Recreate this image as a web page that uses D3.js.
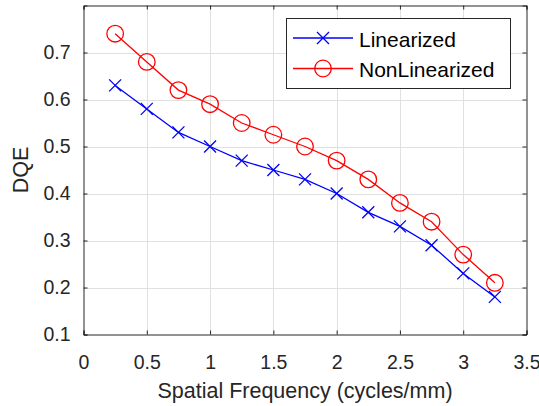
<!DOCTYPE html>
<html lang="en">
<head>
  <meta charset="UTF-8">
  <title>DQE vs Spatial Frequency</title>
  <script src="https://d3js.org/d3.v7.min.js"></script>
  <style>
    body {
      margin: 0;
      background-color: #ffffff;
      font-family: "Liberation Sans", Arial, sans-serif;
    }
    #chart {
      display: block;
    }
  </style>
</head>
<body>
  <svg id="chart" width="539" height="406"></svg>

  <script>
    // data
    const frequency = [0.25, 0.5, 0.75, 1, 1.25, 1.5, 1.75, 2, 2.25, 2.5, 2.75, 3, 3.25];
    const linearized = [0.63, 0.58, 0.53, 0.50, 0.47, 0.45, 0.43, 0.40, 0.36, 0.33, 0.29, 0.23, 0.18];
    const nonLinearized = [0.74, 0.68, 0.62, 0.59, 0.55, 0.525, 0.50, 0.47, 0.43, 0.38, 0.34, 0.27, 0.21];
    const xTicks = [0, 0.5, 1, 1.5, 2, 2.5, 3, 3.5];
    const yTicks = [0.1, 0.2, 0.3, 0.4, 0.5, 0.6, 0.7];
    const seriesNames = ["Linearized", "NonLinearized"];

    const plotLeft = 83.5, plotRight = 526.5, plotTop = 5.5, plotBottom = 334.5;
    const axisColor = "#262626";
    const gridColor = "#e0e0e0";

    const svg = d3.select("#chart");

    const x = d3.scaleLinear().domain([0, 3.5]).range([plotLeft, plotRight]);
    const y = d3.scaleLinear().domain([0.1, 0.8]).range([plotBottom, plotTop]);

    // grid
    svg.append("g")
      .selectAll("line")
      .data(xTicks.slice(1, -1))
      .enter()
      .append("line")
      .attr("x1", d => Math.round(x(d)) + 0.5)
      .attr("x2", d => Math.round(x(d)) + 0.5)
      .attr("y1", plotTop)
      .attr("y2", plotBottom)
      .attr("stroke", gridColor);

    svg.append("g")
      .selectAll("line")
      .data(yTicks.slice(1))
      .enter()
      .append("line")
      .attr("x1", plotLeft)
      .attr("x2", plotRight)
      .attr("y1", d => Math.round(y(d)) + 0.5)
      .attr("y2", d => Math.round(y(d)) + 0.5)
      .attr("stroke", gridColor);

    // axes (ticks inside, box on)
    const tickLen = 4;
    const xAxis = svg.append("g")
      .attr("transform", `translate(0,${plotBottom})`)
      .call(d3.axisBottom(x).tickValues(xTicks).tickSize(-tickLen).tickPadding(17 + tickLen)
        .tickFormat(d3.format("")));
    const yAxis = svg.append("g")
      .attr("transform", `translate(${plotLeft},0)`)
      .call(d3.axisLeft(y).tickValues(yTicks).tickSize(-tickLen).tickPadding(9 + tickLen)
        .tickFormat(d3.format("")));
    const xAxisTop = svg.append("g")
      .attr("transform", `translate(0,${plotTop})`)
      .call(d3.axisTop(x).tickValues(xTicks).tickSize(-tickLen).tickFormat(""));
    const yAxisRight = svg.append("g")
      .attr("transform", `translate(${plotRight},0)`)
      .call(d3.axisRight(y).tickValues(yTicks).tickSize(-tickLen).tickFormat(""));

    [xAxis, yAxis, xAxisTop, yAxisRight].forEach(g => {
      g.select(".domain").attr("stroke", axisColor);
      g.selectAll(".tick line").attr("stroke", axisColor);
      g.selectAll("text")
        .attr("fill", axisColor)
        .style("font-size", "19.5px")
        .style("font-family", "'Liberation Sans', Arial, sans-serif");
    });

    // axis labels
    svg.append("text")
      .attr("x", (plotLeft + plotRight) / 2)
      .attr("y", 398)
      .attr("text-anchor", "middle")
      .attr("fill", axisColor)
      .style("font-size", "21.5px")
      .text("Spatial Frequency (cycles/mm)");

    svg.append("text")
      .attr("transform", `translate(28,${(plotTop + plotBottom) / 2}) rotate(-90)`)
      .attr("text-anchor", "middle")
      .attr("fill", axisColor)
      .style("font-size", "21.5px")
      .text("DQE");

    const line = d3.line()
      .x((d, i) => x(frequency[i]))
      .y(d => y(d));

    function drawCross(g, cx, cy, s, color) {
      g.append("path")
        .attr("d", `M${cx - s},${cy - s}L${cx + s},${cy + s}M${cx - s},${cy + s}L${cx + s},${cy - s}`)
        .attr("stroke", color)
        .attr("stroke-width", 1.3)
        .attr("fill", "none");
    }

    // Linearized
    svg.append("path")
      .datum(linearized)
      .attr("d", line)
      .attr("fill", "none")
      .attr("stroke", "#0000ff")
      .attr("stroke-width", 1.3);
    const crosses = svg.append("g");
    linearized.forEach((v, i) => drawCross(crosses, x(frequency[i]), y(v), 6, "#0000ff"));

    // NonLinearized
    svg.append("path")
      .datum(nonLinearized)
      .attr("d", line)
      .attr("fill", "none")
      .attr("stroke", "#ff0000")
      .attr("stroke-width", 1.3);
    svg.append("g")
      .selectAll("circle")
      .data(nonLinearized)
      .enter()
      .append("circle")
      .attr("cx", (d, i) => x(frequency[i]))
      .attr("cy", d => y(d))
      .attr("r", 8.3)
      .attr("fill", "none")
      .attr("stroke", "#ff0000")
      .attr("stroke-width", 1.3);

    // legend
    const legend = svg.append("g");
    legend.append("rect")
      .attr("x", 286.5)
      .attr("y", 18.5)
      .attr("width", 224)
      .attr("height", 70)
      .attr("fill", "#ffffff")
      .attr("stroke", axisColor);

    const colors = ["#0000ff", "#ff0000"];
    seriesNames.forEach((name, i) => {
      const cy = 38 + i * 30.5;
      legend.append("line")
        .attr("x1", 293).attr("x2", 353)
        .attr("y1", cy).attr("y2", cy)
        .attr("stroke", colors[i])
        .attr("stroke-width", 1.3);
      if (i === 0) {
        drawCross(legend, 323, cy, 6, colors[i]);
      } else {
        legend.append("circle")
          .attr("cx", 323).attr("cy", cy).attr("r", 8.3)
          .attr("fill", "none")
          .attr("stroke", colors[i])
          .attr("stroke-width", 1.3);
      }
      legend.append("text")
        .attr("x", 359)
        .attr("y", cy + 8.5)
        .attr("fill", "#000000")
        .style("font-size", "21px")
        .text(name);
    });
  </script>
</body>
</html>
